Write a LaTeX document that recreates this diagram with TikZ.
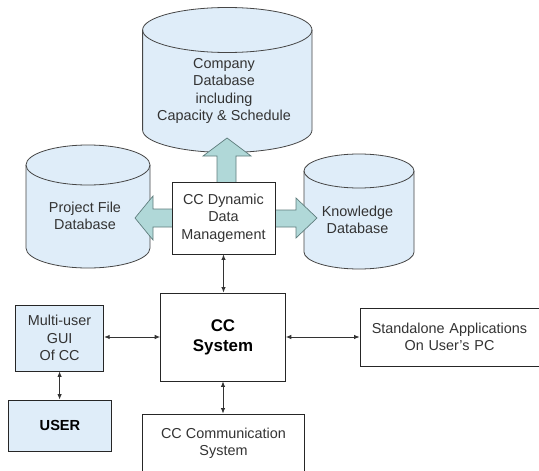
\documentclass[tikz,border=0pt]{standalone}
\usepackage{fontspec}
\setmainfont{Liberation Sans}
\usetikzlibrary{arrows.meta}
\definecolor{dbfill}{RGB}{223,237,249}
\definecolor{dbline}{RGB}{70,70,70}
\definecolor{bigarrow}{RGB}{176,216,216}
\definecolor{bigarrowline}{RGB}{95,125,125}
\newcommand{\dbcyl}[5]{% cx, rx, top y, bottom y, ry
  \path[cylpath] ({#1-#2},{-#3}) -- ({#1-#2},{-#4})
    arc[start angle=180,end angle=360,x radius=#2pt,y radius=#5pt]
    -- ({#1+#2},{-#3})
    arc[start angle=0,end angle=180,x radius=#2pt,y radius=#5pt] -- cycle;
  \draw[dbline,line width=0.8pt] ({#1-#2},{-#3})
    arc[start angle=180,end angle=360,x radius=#2pt,y radius=#5pt];
}
\tikzset{
  cylpath/.style={fill=dbfill,draw=dbline,line width=0.8pt},
  txt/.style={align=center,font=\fontsize{14.4}{17.3}\selectfont,inner sep=0pt,text=black!80},
  box/.style={draw=black!85,line width=0.8pt,fill=white,align=center,inner sep=0pt,
    font=\fontsize{14.4}{17.3}\selectfont,text=black!80},
  bluebox/.style={box,fill=dbfill},
  blockarrow/.style={fill=bigarrow,draw=bigarrowline,line width=0.7pt,line join=miter},
  dbl/.style={{Latex[length=5.5pt,width=4.5pt]}-{Latex[length=5.5pt,width=4.5pt]},line width=0.9pt,black!80}
}
\begin{document}
\begin{tikzpicture}[x=1pt,y=1pt]
\useasboundingbox[fill=white] (0,0) rectangle (539,-471);
% cylinders
\dbcyl{227.3}{84.7}{30}{130}{22.5}
\dbcyl{88}{62}{165}{248}{20}
\dbcyl{359}{55}{171}{252}{17}
\node[txt] (company) at (224,-91) {Company\\Database\\including\\Capacity \& Schedule};
\node[txt] (project) at (85,-216) {Project File\\Database};
\node[txt] (knowledge) at (357.5,-220) {Knowledge\\Database};
% block arrows
\path[blockarrow] (217,-183) -- (217,-156) -- (203,-156) -- (227,-138) -- (251,-156) -- (236,-156) -- (236,-183) -- cycle;
\path[blockarrow] (173,-209) -- (153,-209) -- (153,-196) -- (135,-218) -- (153,-240) -- (153,-227) -- (173,-227) -- cycle;
\path[blockarrow] (274,-210) -- (296,-210) -- (296,-198) -- (317,-218) -- (296,-238) -- (296,-227) -- (274,-227) -- cycle;
% boxes
\node[box,minimum width=103pt,minimum height=72pt] (ddm) at (223.5,-218) {CC Dynamic\\Data\\Management};
\node[box,minimum width=124.8pt,minimum height=88pt,font=\fontsize{16.9}{20}\selectfont\bfseries,text=black] (cc) at (223,-337) {CC\\System};
\node[bluebox,minimum width=88.3pt,minimum height=66pt] (gui) at (59.6,-338) {Multi-user\\GUI\\Of CC};
\node[bluebox,minimum width=102.4pt,minimum height=51pt,font=\fontsize{14.6}{17}\selectfont\bfseries,text=black] (user) at (60,-425.5) {USER};
\node[box,minimum width=190pt,minimum height=58pt,text width=179pt] (standalone) at (455,-337) {\hspace*{-11pt}Standalone Applications\\\hspace*{-11pt}On User's PC};
\node[box,minimum width=161.3pt,minimum height=58pt] (comm) at (223.5,-443) {CC Communication\\System};
% connectors
\draw[dbl] (ddm.south) -- (ddm.south |- cc.north);
\draw[dbl] (gui.east |- cc.west) -- (cc.west);
\draw[dbl] (cc.east) -- (standalone.west |- cc.east);
\draw[dbl] (gui.south) -- (gui.south |- user.north);
\draw[dbl] (comm.north -| cc.south) -- (cc.south);
\end{tikzpicture}
\end{document}
